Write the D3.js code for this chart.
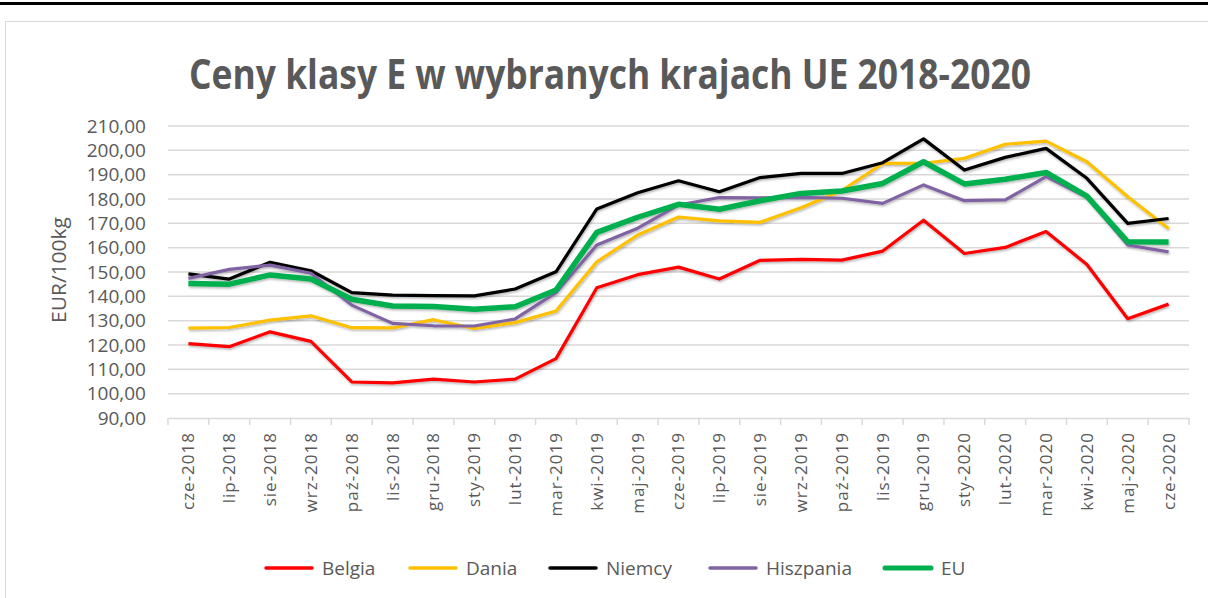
<!DOCTYPE html>
<html>
<head>
<meta charset="utf-8">
<script src="https://cdn.jsdelivr.net/npm/d3@7"></script>
<style>
  body { margin: 0; background: #fff; }
  svg { display: block; }
  text { fill: #595959; font-family: "Open Sans", sans-serif; }
</style>
</head>
<body>
<div id="chart"></div>
<script>
var width = 1208;
var height = 598;

var months = ["cze-2018","lip-2018","sie-2018","wrz-2018","paź-2018","lis-2018","gru-2018","sty-2019","lut-2019","mar-2019","kwi-2019","maj-2019","cze-2019","lip-2019","sie-2019","wrz-2019","paź-2019","lis-2019","gru-2019","sty-2020","lut-2020","mar-2020","kwi-2020","maj-2020","cze-2020"];

var belgia    = [120.6,119.3,125.4,121.5,104.8,104.4,106.0,104.8,106.0,114.4,143.5,148.9,152.0,147.1,154.8,155.2,154.9,158.6,171.3,157.6,160.1,166.6,153.1,130.8,136.8];
var dania     = [126.9,127.2,130.2,132.0,127.1,127.0,130.4,126.8,129.2,134.0,154.2,165.2,172.6,171.0,170.4,176.4,183.5,194.6,194.7,196.7,202.5,203.8,195.3,180.9,167.9];
var niemcy    = [149.2,147.1,154.0,150.5,141.5,140.5,140.3,140.2,143.0,150.1,175.9,182.6,187.5,183.0,188.8,190.5,190.5,194.9,204.7,191.9,197.1,200.8,188.5,170.0,172.0];
var hiszpania = [147.4,151.1,152.8,149.5,136.4,128.9,127.9,127.8,130.7,141.5,161.1,168.0,177.5,180.6,180.5,180.7,180.3,178.2,185.8,179.3,179.6,189.2,180.7,161.1,158.3];
var eu        = [145.3,145.0,148.8,147.1,138.8,136.0,135.8,134.7,135.7,142.6,166.3,172.5,177.8,175.8,179.3,182.3,183.3,186.4,195.3,186.2,188.1,190.9,181.2,162.4,162.3];

var seriesNames = ["Belgia","Dania","Niemcy","Hiszpania","EU"];
var seriesValues = [belgia, dania, niemcy, hiszpania, eu];
var seriesColors = ["#ff0000","#ffc000","#000000","#8064a2","#00b050"];
var seriesWidths = [3.2, 3.2, 3.2, 3.2, 5.5];

var yTicks = [90,100,110,120,130,140,150,160,170,180,190,200,210];

var svg = d3.select("#chart").append("svg")
  .attr("width", width)
  .attr("height", height);

var defs = svg.append("defs");
var shadow = defs.append("filter").attr("id", "shadow")
  .attr("x", "-5%").attr("y", "-5%").attr("width", "110%").attr("height", "120%");
shadow.append("feDropShadow")
  .attr("dx", 0.8).attr("dy", 1.5).attr("stdDeviation", 1.2)
  .attr("flood-color", "#000").attr("flood-opacity", 0.3);

// top rule and chart frame
svg.append("rect").attr("x", 0).attr("y", 2).attr("width", width).attr("height", 3).attr("fill", "#000");
svg.append("rect").attr("x", 5.5).attr("y", 21.5).attr("width", width + 10).attr("height", height)
  .attr("fill", "none").attr("stroke", "#d9d9d9").attr("stroke-width", 1);

var plotLeft = 168, plotRight = 1189, plotTop = 126, plotBottom = 418;

var x = d3.scaleBand().domain(months).range([plotLeft, plotRight]);
var y = d3.scaleLinear().domain([90, 210]).range([plotBottom, plotTop]);

// title
svg.append("text")
  .attr("x", 610).attr("y", 89)
  .attr("text-anchor", "middle")
  .attr("textLength", 842).attr("lengthAdjust", "spacingAndGlyphs")
  .style("font-size", "41px").style("font-weight", "bold")
  .text("Ceny klasy E w wybranych krajach UE 2018-2020");

// grid
svg.append("g").selectAll("line")
  .data(yTicks.slice(1))
  .enter().append("line")
  .attr("x1", plotLeft).attr("x2", plotRight)
  .attr("y1", d => y(d)).attr("y2", d => y(d))
  .attr("stroke", "#d9d9d9").attr("stroke-width", 1.5);

// y axis labels
var axisY = d3.axisLeft(y).tickValues(yTicks).tickSize(0).tickPadding(22)
  .tickFormat(d => d3.format(".2f")(d).replace(".", ","));
var gy = svg.append("g").attr("transform", "translate(" + plotLeft + ",0)").call(axisY);
gy.select(".domain").remove();
gy.selectAll("text").style("font-size", "19px").style("font-family", "\"Open Sans\", sans-serif").attr("fill", "#595959");

svg.append("text")
  .attr("transform", "translate(66," + ((plotTop + plotBottom) / 2 - 2) + ") rotate(-90)")
  .attr("text-anchor", "middle")
  .attr("textLength", 106).attr("lengthAdjust", "spacingAndGlyphs")
  .style("font-size", "20px")
  .text("EUR/100kg");

// x axis
var axisX = d3.axisBottom(x).tickSizeInner(0).tickSizeOuter(0).tickPadding(14);
var gx = svg.append("g").attr("transform", "translate(0," + plotBottom + ")").call(axisX);
gx.select(".domain").attr("stroke", "#d9d9d9").attr("stroke-width", 1.5);
gx.selectAll("text")
  .attr("transform", "rotate(-90)")
  .attr("text-anchor", "end")
  .attr("x", -14).attr("y", 0).attr("dy", "0.35em")
  .style("font-size", "17px").style("font-family", "\"Open Sans\", sans-serif")
  .style("letter-spacing", "1px")
  .attr("fill", "#595959");
gx.selectAll(".tick line").remove();
svg.append("g").selectAll("line")
  .data(months.concat(["end"]))
  .enter().append("line")
  .attr("x1", (d, i) => plotLeft + i * x.bandwidth())
  .attr("x2", (d, i) => plotLeft + i * x.bandwidth())
  .attr("y1", plotBottom).attr("y2", plotBottom + 7)
  .attr("stroke", "#d9d9d9").attr("stroke-width", 1.5);

// lines
var line = d3.line()
  .x((d, i) => x(months[i]) + x.bandwidth() / 2)
  .y(d => y(d));

svg.append("g").attr("filter", "url(#shadow)").selectAll("path")
  .data(seriesValues)
  .enter().append("path")
  .attr("d", d => line(d))
  .attr("fill", "none")
  .attr("stroke", (d, i) => seriesColors[i])
  .attr("stroke-width", (d, i) => seriesWidths[i])
  .attr("stroke-linejoin", "round");

// legend
var legendX = [266, 410, 550, 710, 885];
var legend = svg.append("g").selectAll("g")
  .data(seriesNames)
  .enter().append("g")
  .attr("transform", (d, i) => "translate(" + legendX[i] + ",568)");
legend.append("line")
  .attr("x1", 0).attr("x2", 46)
  .attr("stroke", (d, i) => seriesColors[i])
  .attr("stroke-width", (d, i) => i == 4 ? 5 : 3.5)
  .attr("stroke-linecap", "round");
legend.append("text")
  .attr("x", 56).attr("y", 0).attr("dy", "0.35em")
  .style("font-size", "19px")
  .text(d => d);
</script>
</body>
</html>
